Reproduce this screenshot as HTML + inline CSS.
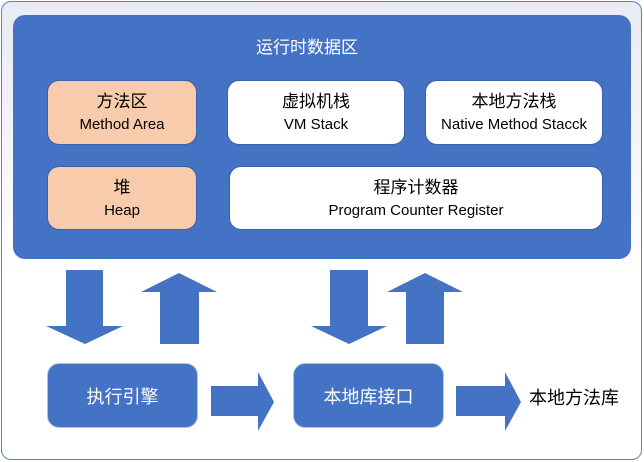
<!DOCTYPE html>
<html><head><meta charset="utf-8"><style>
body{margin:0;width:644px;height:462px;background:#fff;position:relative;overflow:hidden;font-family:"Liberation Sans","Noto Sans CJK SC",sans-serif}
.outer{position:absolute;left:1px;top:1px;width:639px;height:457px;border:1px solid #5b7fc4;border-radius:10px;background:linear-gradient(#e8ebf3,#fff 60%)}
.blue{position:absolute;left:13px;top:15px;width:618px;height:244px;background:#4472c4;border-radius:12px}
.b{position:absolute;border-radius:12px;text-align:center;font-size:17px;line-height:23px;color:#000;box-sizing:border-box;border:1px solid #3a62a8}
.o{background:#f8cbad}.w{background:#fff}
.b span{font-size:15px;display:block}
.t{position:absolute;color:#fff;font-size:17px}
.e{position:absolute;background:#4472c4;border-radius:12px;color:#fff;font-size:18px;display:flex;align-items:center;justify-content:center;border:1px solid #b4c4e0;box-sizing:border-box}
</style></head><body>
<div class="outer"></div>
<div class="blue"></div>
<div class="t" style="left:256px;top:33px">运行时数据区</div>
<div class="b o" style="left:47px;top:80px;width:150px;height:65px;padding-top:9px">方法区<span>Method Area</span></div>
<div class="b w" style="left:227px;top:80px;width:178px;height:65px;padding-top:9px">虚拟机栈<span>VM Stack</span></div>
<div class="b w" style="left:425px;top:80px;width:178px;height:65px;padding-top:9px">本地方法栈<span>Native Method Stacck</span></div>
<div class="b o" style="left:47px;top:166px;width:150px;height:64px;padding-top:9px">堆<span>Heap</span></div>
<div class="b w" style="left:229px;top:166px;width:374px;height:64px;padding-top:9px">程序计数器<span>Program Counter Register</span></div>
<svg style="position:absolute;left:0;top:0" width="644" height="462" fill="#4472c4">
<polygon points="66,270 103,270 103,326 123,326 85,344 46,326 66,326"/>
<polygon points="160,344 199,344 199,292 217,292 179,273 141,292 160,292"/>
<polygon points="330,270 368,270 368,326 387,326 349,344 311,326 330,326"/>
<polygon points="406,344 444,344 444,292 463,292 425,273 387,292 406,292"/>
<polygon points="211,386 258,386 258,372 274,402 258,431 258,416 211,416"/>
<polygon points="456,386 505,386 505,372 521,402 505,431 505,416 456,416"/>
</svg>
<div class="e" style="left:47px;top:363px;width:151px;height:65px">执行引擎</div>
<div class="e" style="left:293px;top:363px;width:151px;height:65px">本地库接口</div>
<div style="position:absolute;left:529px;top:384px;font-size:18px">本地方法库</div>
</body></html>
